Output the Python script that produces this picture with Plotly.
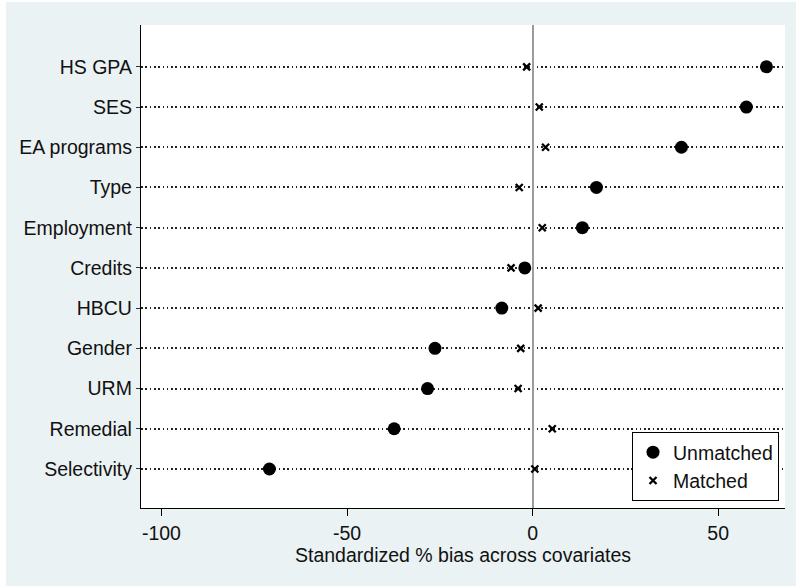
import plotly.graph_objects as go

categories = ["HS GPA", "SES", "EA programs", "Type", "Employment", "Credits",
              "HBCU", "Gender", "URM", "Remedial", "Selectivity"]
unmatched = [63.0, 57.6, 40.1, 17.2, 13.4, -2.1, -8.3, -26.3, -28.3, -37.3, -70.9]
matched = [-1.6, 1.8, 3.5, -3.6, 2.6, -5.8, 1.5, -3.2, -3.9, 5.3, 0.6]
x_ticks = [-100, -50, 0, 50]
x_title = "Standardized % bias across covariates"

FONT = "Liberation Sans, Arial, Helvetica, sans-serif"
BG = "#EAF2F3"

fig = go.Figure()
fig.add_trace(go.Scatter(
    x=unmatched, y=categories, mode="markers", name="Unmatched",
    marker=dict(symbol="circle", size=13, color="black"),
))
fig.add_trace(go.Scatter(
    x=matched, y=categories, mode="markers", name="Matched",
    marker=dict(symbol="x-thin", size=7, color="black",
                line=dict(color="black", width=2.3)),
))

# thin white strips at top and left of the page (outside the grey region)
fig.add_shape(type="rect", xref="paper", yref="paper", layer="below",
              x0=-0.25, x1=1.1, y0=1.0476, y1=1.06,
              fillcolor="white", line=dict(width=0))
fig.add_shape(type="rect", xref="paper", yref="paper", layer="below",
              x0=-0.25, x1=-0.2096, y0=-0.2, y1=1.06,
              fillcolor="white", line=dict(width=0))

fig.update_layout(
    width=796, height=586,
    margin=dict(l=141, r=11, t=25, b=78),
    paper_bgcolor=BG, plot_bgcolor="white",
    font=dict(family=FONT, size=19.5, color="#111111"),
    showlegend=True,
    legend=dict(
        x=0.9907, y=0.0145, xanchor="right", yanchor="bottom",
        bgcolor="white", bordercolor="black", borderwidth=1,
        font=dict(family=FONT, size=19.5, color="#111111"),
        tracegroupgap=0, itemsizing="trace",
    ),
    xaxis=dict(
        range=[-105.5, 68.0], tickvals=x_ticks, ticktext=[str(v) for v in x_ticks],
        showgrid=False, zeroline=True, zerolinecolor="#9c9c9c", zerolinewidth=1.5,
        showline=True, linecolor="black", linewidth=1.3,
        ticks="outside", ticklen=7, tickwidth=1.2, tickcolor="black",
        title=dict(text=x_title, standoff=3, font=dict(family=FONT, size=19.5, color="#111111")),
        mirror=False,
    ),
    yaxis=dict(
        type="category", categoryorder="array", categoryarray=categories[::-1],
        range=[-0.97, 11.04],
        showgrid=True, gridcolor="#222222", griddash="1.6px,2.7px", gridwidth=1.5,
        showline=True, linecolor="black", linewidth=1.3,
        ticks="outside", ticklen=4, tickwidth=1.2, tickcolor="#333333",
        zeroline=False,
    ),
)

fig.write_html("out.html")
